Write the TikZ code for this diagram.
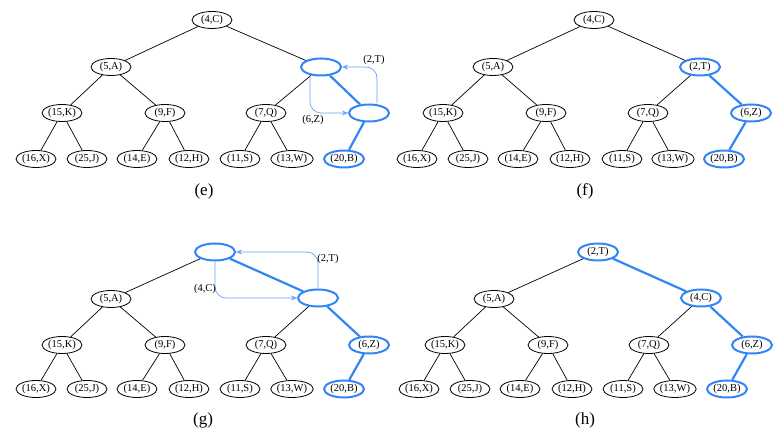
\documentclass[tikz,border=0pt]{standalone}
\usepackage{fontspec}
\setmainfont{Liberation Serif}
\usetikzlibrary{arrows.meta,shapes.geometric}
\definecolor{hblue}{RGB}{51,133,246}
\definecolor{hswap}{RGB}{105,160,250}
\tikzset{
  key/.style={draw, ellipse, line width=0.8pt, minimum width=40pt, minimum height=17pt,
    inner sep=0pt, font=\fontsize{10.5}{11}\selectfont},
  hot/.style={key, draw=hblue, line width=2pt},
  edge/.style={line width=0.7pt},
  hotedge/.style={draw=hblue, line width=2.2pt},
  swap/.style={draw=hswap, line width=0.7pt, -{Stealth[length=6pt,width=5pt]}, rounded corners=11pt},
  caption/.style={font=\fontsize{17}{19}\selectfont},
  lbl/.style={font=\fontsize{10.5}{11}\selectfont}
}
\begin{document}
\begin{tikzpicture}[x=1pt,y=-1pt]
\useasboundingbox (0,0) rectangle (782,446);

% ---------- (e): (2,T) sifts up past (6,Z)
\begin{scope}
\node[key] (e-r) at (212,20) {(4,C)};
\node[key] (e-a) at (111,67) {(5,A)};
\node[hot] (e-b) at (321,67) {};
\node[key] (e-k) at (62,113) {(15,K)};
\node[key] (e-f) at (165,113) {(9,F)};
\node[key] (e-q) at (266,113) {(7,Q)};
\node[hot] (e-z) at (369,113) {};
\node[key] (e-x) at (36,159) {(16,X)};
\node[key] (e-j) at (87,159) {(25,J)};
\node[key] (e-e) at (137,159) {(14,E)};
\node[key] (e-h) at (189,159) {(12,H)};
\node[key] (e-s) at (240,159) {(11,S)};
\node[key] (e-w) at (292,159) {(13,W)};
\node[hot] (e-bb) at (344,159) {(20,B)};
\draw[edge] (e-r) -- (e-a);
\draw[edge] (e-r) -- (e-b);
\draw[edge] (e-a) -- (e-k);
\draw[edge] (e-a) -- (e-f);
\draw[edge] (e-b) -- (e-q);
\draw[hotedge] (e-b) -- (e-z);
\draw[edge] (e-k) -- (e-x);
\draw[edge] (e-k) -- (e-j);
\draw[edge] (e-f) -- (e-e);
\draw[edge] (e-f) -- (e-h);
\draw[edge] (e-q) -- (e-s);
\draw[edge] (e-q) -- (e-w);
\draw[hotedge] (e-z) -- (e-bb);
\draw[swap] ([xshift=8pt]e-z.north) |- (e-b.east);
\draw[swap] ([xshift=-11pt]e-b.south) |- (e-z.west);
\node[lbl] (e-lt) at (374,60) {(2,T)};
\node[lbl] (e-lz) at (313,120) {(6,Z)};
\node[caption] (e-cap) at (204,191) {(e)};
\end{scope}

% ---------- (f): after the swap
\begin{scope}[shift={(381,0)}]
\node[key] (f-r) at (213,20) {(4,C)};
\node[key] (f-a) at (112,67) {(5,A)};
\node[hot] (f-b) at (319,67) {(2,T)};
\node[key] (f-k) at (62,113) {(15,K)};
\node[key] (f-f) at (165,113) {(9,F)};
\node[key] (f-q) at (267,113) {(7,Q)};
\node[hot] (f-z) at (370,113) {(6,Z)};
\node[key] (f-x) at (36,159) {(16,X)};
\node[key] (f-j) at (87,159) {(25,J)};
\node[key] (f-e) at (137,159) {(14,E)};
\node[key] (f-h) at (189,159) {(12,H)};
\node[key] (f-s) at (241,159) {(11,S)};
\node[key] (f-w) at (292,159) {(13,W)};
\node[hot] (f-bb) at (343,159) {(20,B)};
\draw[edge] (f-r) -- (f-a);
\draw[edge] (f-r) -- (f-b);
\draw[edge] (f-a) -- (f-k);
\draw[edge] (f-a) -- (f-f);
\draw[edge] (f-b) -- (f-q);
\draw[hotedge] (f-b) -- (f-z);
\draw[edge] (f-k) -- (f-x);
\draw[edge] (f-k) -- (f-j);
\draw[edge] (f-f) -- (f-e);
\draw[edge] (f-f) -- (f-h);
\draw[edge] (f-q) -- (f-s);
\draw[edge] (f-q) -- (f-w);
\draw[hotedge] (f-z) -- (f-bb);
\node[caption] (f-cap) at (204,191) {(f)};
\end{scope}

% ---------- (g): (2,T) sifts up past (4,C)
\begin{scope}[shift={(0,231)}]
\node[hot] (g-r) at (215,21) {};
\node[key] (g-a) at (111,68) {(5,A)};
\node[hot] (g-b) at (318,67) {};
\node[key] (g-k) at (62,114) {(15,K)};
\node[key] (g-f) at (165,114) {(9,F)};
\node[key] (g-q) at (266,114) {(7,Q)};
\node[hot] (g-z) at (369,114) {(6,Z)};
\node[key] (g-x) at (36,158) {(16,X)};
\node[key] (g-j) at (87,158) {(25,J)};
\node[key] (g-e) at (137,158) {(14,E)};
\node[key] (g-h) at (189,158) {(12,H)};
\node[key] (g-s) at (240,158) {(11,S)};
\node[key] (g-w) at (292,158) {(13,W)};
\node[hot] (g-bb) at (344,158) {(20,B)};
\draw[edge] (g-r) -- (g-a);
\draw[hotedge] (g-r) -- (g-b);
\draw[edge] (g-a) -- (g-k);
\draw[edge] (g-a) -- (g-f);
\draw[edge] (g-b) -- (g-q);
\draw[hotedge] (g-b) -- (g-z);
\draw[edge] (g-k) -- (g-x);
\draw[edge] (g-k) -- (g-j);
\draw[edge] (g-f) -- (g-e);
\draw[edge] (g-f) -- (g-h);
\draw[edge] (g-q) -- (g-s);
\draw[edge] (g-q) -- (g-w);
\draw[hotedge] (g-z) -- (g-bb);
\draw[swap] (g-b.north) |- (g-r.east);
\draw[swap] (g-r.south) |- (g-b.west);
\node[lbl] (g-lt) at (328,28) {(2,T)};
\node[lbl] (g-lc) at (205,58) {(4,C)};
\node[caption] (g-cap) at (203,189) {(g)};
\end{scope}

% ---------- (h): final heap
\begin{scope}[shift={(383,231)}]
\node[hot] (h-r) at (215,21) {(2,T)};
\node[key] (h-a) at (111,68) {(5,A)};
\node[hot] (h-b) at (318,67) {(4,C)};
\node[key] (h-k) at (62,114) {(15,K)};
\node[key] (h-f) at (165,114) {(9,F)};
\node[key] (h-q) at (266,114) {(7,Q)};
\node[hot] (h-z) at (369,114) {(6,Z)};
\node[key] (h-x) at (36,158) {(16,X)};
\node[key] (h-j) at (87,158) {(25,J)};
\node[key] (h-e) at (137,158) {(14,E)};
\node[key] (h-h) at (189,158) {(12,H)};
\node[key] (h-s) at (240,158) {(11,S)};
\node[key] (h-w) at (292,158) {(13,W)};
\node[hot] (h-bb) at (344,158) {(20,B)};
\draw[edge] (h-r) -- (h-a);
\draw[hotedge] (h-r) -- (h-b);
\draw[edge] (h-a) -- (h-k);
\draw[edge] (h-a) -- (h-f);
\draw[edge] (h-b) -- (h-q);
\draw[hotedge] (h-b) -- (h-z);
\draw[edge] (h-k) -- (h-x);
\draw[edge] (h-k) -- (h-j);
\draw[edge] (h-f) -- (h-e);
\draw[edge] (h-f) -- (h-h);
\draw[edge] (h-q) -- (h-s);
\draw[edge] (h-q) -- (h-w);
\draw[hotedge] (h-z) -- (h-bb);
\node[caption] (h-cap) at (202,189) {(h)};
\end{scope}
\end{tikzpicture}
\end{document}
